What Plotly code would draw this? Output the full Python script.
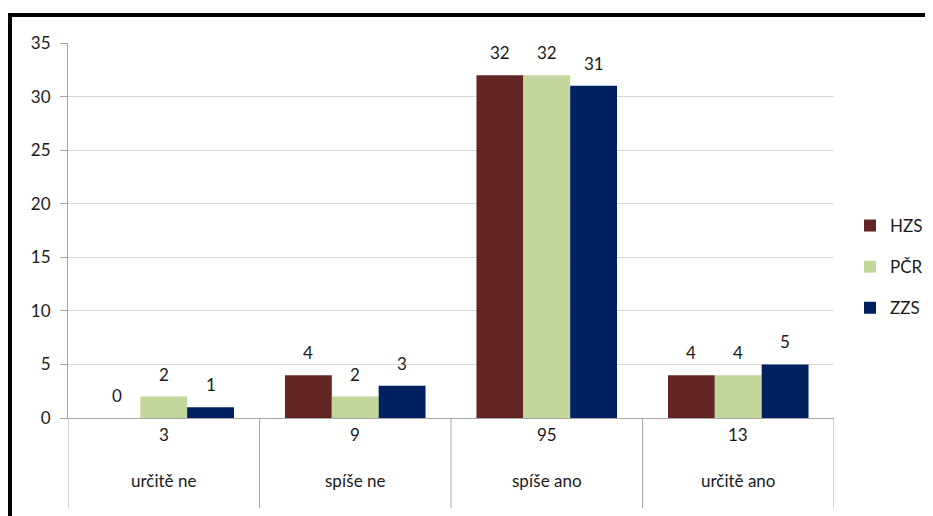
import plotly.graph_objects as go

# data
categories = ["určitě ne", "spíše ne", "spíše ano", "určitě ano"]
totals = [3, 9, 95, 13]
hzs = [0, 4, 32, 4]
pcr = [2, 2, 32, 4]
zzs = [1, 3, 31, 5]

# the page puts the figure 8px in from the top-left corner,
# so the figure is smaller and positions are measured in screen pixels
OFF = 8
W, H = 933 - OFF, 516 - OFF
FONT = "Lato"
TXT = "#1a1a1a"


def px_x(x):
    return (x - OFF) / W


def px_y(y):
    return 1 - (y - OFF) / H


series = [
    ("HZS", hzs, "#632523"),
    ("PČR", pcr, "#C3D69B"),
    ("ZZS", zzs, "#002060"),
]

fig = go.Figure()
annotations = []
for j, (name, vals, color) in enumerate(series):
    fig.add_trace(go.Bar(
        x=categories,
        y=vals,
        name=name,
        legendgroup=name,
        marker=dict(color=color, line=dict(width=0)),
    ))
    # value labels above each bar
    for cat, v in zip(categories, vals):
        annotations.append(dict(
            x=cat, y=v, xref="x", yref="y", text=str(v), showarrow=False,
            xshift=(j - 1) * 47, yshift=10, yanchor="bottom",
            font=dict(family=FONT, size=17, color=TXT),
        ))

# table-like category axis below the plot
shapes = []
for i in range(len(categories) + 1):
    shapes.append(dict(
        type="line", xref="x", yref="paper",
        x0=i - 0.5, x1=i - 0.5, y0=px_y(418), y1=px_y(508),
        line=dict(color="#A6A6A6", width=1),
    ))

# black frame around the picture (top and left)
shapes.append(dict(type="rect", xref="paper", yref="paper",
                   x0=0, x1=1.0, y0=px_y(17), y1=px_y(13),
                   fillcolor="black", line=dict(width=0)))
shapes.append(dict(type="rect", xref="paper", yref="paper",
                   x0=0, x1=px_x(12), y0=0, y1=px_y(13),
                   fillcolor="black", line=dict(width=0)))

for i, (cat, tot) in enumerate(zip(categories, totals)):
    annotations.append(dict(x=i, y=px_y(447), xref="x", yref="paper",
                            text=str(tot), showarrow=False,
                            font=dict(family=FONT, size=17, color=TXT)))
    annotations.append(dict(x=i, y=px_y(493), xref="x", yref="paper",
                            text=cat, showarrow=False,
                            font=dict(family=FONT, size=17, color=TXT)))

fig.update_layout(
    width=W, height=H,
    margin=dict(l=0, r=0, t=0, b=0, autoexpand=False),
    paper_bgcolor="white",
    plot_bgcolor="white",
    barmode="group",
    bargap=0.266,
    bargroupgap=0,
    showlegend=True,
    legend=dict(
        x=px_x(850), y=px_y(208), xanchor="left", yanchor="top",
        font=dict(family=FONT, size=17, color=TXT),
        tracegroupgap=16,
        itemwidth=30,
        borderwidth=0,
        bgcolor="rgba(0,0,0,0)",
    ),
    xaxis=dict(
        domain=[px_x(68), px_x(834)],
        range=[-0.5, 3.5],
        showticklabels=False,
        showgrid=False,
        showline=True,
        linecolor="#A6A6A6",
        linewidth=1,
        zeroline=False,
    ),
    yaxis=dict(
        domain=[px_y(418), px_y(43)],
        range=[0, 35],
        dtick=5,
        showgrid=True,
        gridcolor="#D9D9D9",
        gridwidth=1,
        showline=True,
        linecolor="#A6A6A6",
        linewidth=1,
        ticks="outside",
        ticklen=7,
        tickcolor="#A6A6A6",
        ticklabelstandoff=6,
        zeroline=False,
        tickfont=dict(family=FONT, size=17, color=TXT),
    ),
    shapes=shapes,
    annotations=annotations,
)

fig.write_html("out.html")
